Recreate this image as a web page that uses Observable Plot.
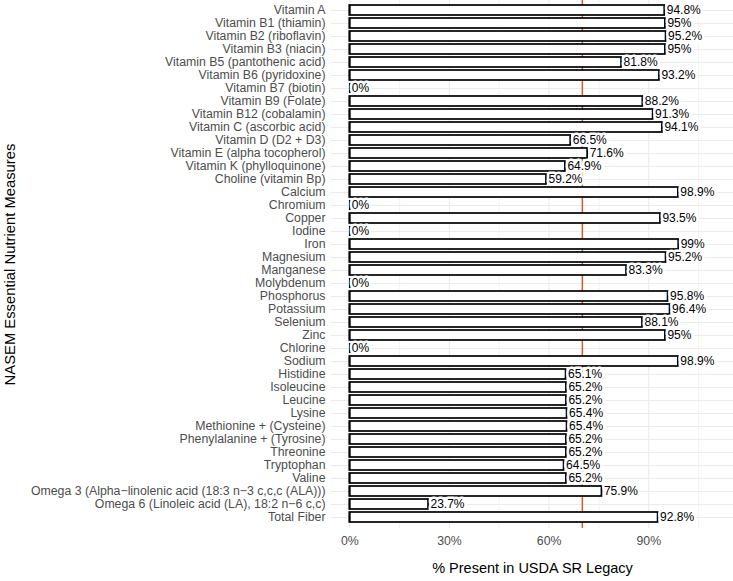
<!DOCTYPE html>
<html>
<head>
<meta charset="utf-8">
<script src="https://cdn.jsdelivr.net/npm/d3@7"></script>
<script src="https://cdn.jsdelivr.net/npm/@observablehq/plot@0.6"></script>
<style>
  html, body { margin: 0; padding: 0; background: white; }
</style>
</head>
<body>
<div id="chart"></div>
<script>
const nutrients = [
  "Vitamin A",
  "Vitamin B1 (thiamin)",
  "Vitamin B2 (riboflavin)",
  "Vitamin B3 (niacin)",
  "Vitamin B5 (pantothenic acid)",
  "Vitamin B6 (pyridoxine)",
  "Vitamin B7 (biotin)",
  "Vitamin B9 (Folate)",
  "Vitamin B12 (cobalamin)",
  "Vitamin C (ascorbic acid)",
  "Vitamin D (D2 + D3)",
  "Vitamin E (alpha tocopherol)",
  "Vitamin K (phylloquinone)",
  "Choline (vitamin Bp)",
  "Calcium",
  "Chromium",
  "Copper",
  "Iodine",
  "Iron",
  "Magnesium",
  "Manganese",
  "Molybdenum",
  "Phosphorus",
  "Potassium",
  "Selenium",
  "Zinc",
  "Chlorine",
  "Sodium",
  "Histidine",
  "Isoleucine",
  "Leucine",
  "Lysine",
  "Methionine + (Cysteine)",
  "Phenylalanine + (Tyrosine)",
  "Threonine",
  "Tryptophan",
  "Valine",
  "Omega 3 (Alpha\u2212linolenic acid (18:3 n\u22123 c,c,c (ALA)))",
  "Omega 6 (Linoleic acid (LA), 18:2 n\u22126 c,c)",
  "Total Fiber"
];
const percentPresent = [
  94.8, 95, 95.2, 95, 81.8, 93.2, 0, 88.2, 91.3, 94.1,
  66.5, 71.6, 64.9, 59.2, 98.9, 0, 93.5, 0, 99, 95.2,
  83.3, 0, 95.8, 96.4, 88.1, 95, 0, 98.9, 65.1, 65.2,
  65.2, 65.4, 65.4, 65.2, 65.2, 64.5, 65.2, 75.9, 23.7, 92.8
];
const xTicks = [0, 30, 60, 90];
const xMinor = [15, 45, 75, 105];
const threshold = 70;
const xTitle = "% Present in USDA SR Legacy";
const yTitle = "NASEM Essential Nutrient Measures";

const data = nutrients.map((name, i) => ({name, v: percentPresent[i]}));
const font = "'Liberation Sans', Arial, Helvetica, sans-serif";

const chart = Plot.plot({
  width: 733,
  height: 581,
  marginTop: 0,
  marginBottom: 53,
  marginLeft: 331,
  marginRight: 0,
  style: {fontFamily: font, fontSize: "12.3px", background: "white", overflow: "visible"},
  x: {domain: [-5.5, 115.5]},
  y: {domain: nutrients, paddingInner: 0.2, paddingOuter: 0.2},
  marks: [
    Plot.ruleX(xMinor, {stroke: "#ebebeb", strokeWidth: 0.6}),
    Plot.ruleX(xTicks, {stroke: "#ebebeb", strokeWidth: 1.1}),
    Plot.gridY({stroke: "#ebebeb", strokeOpacity: 1, strokeWidth: 1.1}),
    Plot.ruleX([threshold], {stroke: "#e5562a", strokeWidth: 1.5}),
    Plot.barX(data, {x: "v", y: "name", fill: "white", stroke: "black", strokeWidth: 1.7}),
    Plot.tickX(data, {x: 0, y: "name", stroke: "black", strokeWidth: 1.7, insetTop: 0, insetBottom: 0}),
    Plot.text(data, {
      x: "v", y: "name", text: d => d.v + "%", textAnchor: "start", dx: 2,
      fill: "black", stroke: "white", strokeWidth: 5, strokeLinejoin: "round", paintOrder: "stroke", fontSize: 12
    }),
    Plot.axisY({tickSize: 0, tickPadding: 6, label: null, fill: "#4d4d4d", fontSize: 12.3}),
    Plot.axisX({ticks: xTicks, tickFormat: d => d + "%", tickSize: 0, tickPadding: 8, label: null, fill: "#4d4d4d", fontSize: 12.3}),
    Plot.text([xTitle], {frameAnchor: "bottom", textAnchor: "middle", dy: 44, fontSize: 14.5, fill: "black"}),
    Plot.text([yTitle], {frameAnchor: "left", textAnchor: "middle", rotate: -90, dx: -321, fontSize: 14.8, fill: "black"})
  ]
});
document.getElementById("chart").appendChild(chart);
</script>
</body>
</html>
